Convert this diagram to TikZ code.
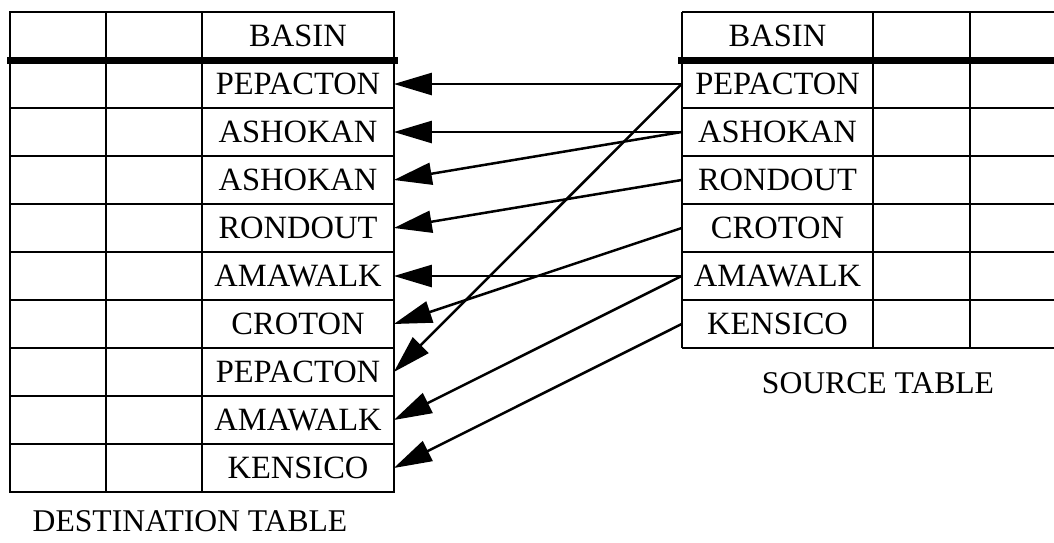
\documentclass[tikz,border=0pt]{standalone}
\usepackage{fontspec}
\setmainfont{Liberation Serif}
\usetikzlibrary{arrows.meta}

\begin{document}
\begin{tikzpicture}[x=0.02cm,y=-0.02cm]

\begin{scope}[grid/.style={line width=0.05cm},thick line/.style={line width=0.14cm},cell/.style={minimum width=3.82cm,minimum height=0.96cm,inner sep=0,font=\fontsize{18.5}{20}\selectfont},caption/.style={inner sep=0,font=\fontsize{18}{20}\selectfont},arr/.style={line width=0.05cm,-{Triangle[length=0.76cm,width=0.44cm]}}]
\useasboundingbox (0,0) rectangle (1054,542);

% Grid
\draw[grid] (10,12) rectangle (394,492);
\foreach \x in {106,202} \draw[grid] (\x,12) -- (\x,492);
\foreach \y in {108,156,...,444} \draw[grid] (10,\y) -- (394,\y);
\draw[thick line] (7,60) -- (398,60);

\foreach \x in {682,873,970} \draw[grid] (\x,12) -- (\x,348);
\foreach \y in {12,108,156,...,348} \draw[grid] (682,\y) -- (1054,\y);
\draw[thick line] (678,60) -- (1054,60);

% Nodes
\node[cell] (dst0) at (298,36) {BASIN};
\node[cell] (dst1) at (298,84) {PEPACTON};
\node[cell] (dst2) at (298,132) {ASHOKAN};
\node[cell] (dst3) at (298,180) {ASHOKAN};
\node[cell] (dst4) at (298,228) {RONDOUT};
\node[cell] (dst5) at (298,276) {AMAWALK};
\node[cell] (dst6) at (298,324) {CROTON};
\node[cell] (dst7) at (298,372) {PEPACTON};
\node[cell] (dst8) at (298,420) {AMAWALK};
\node[cell] (dst9) at (298,468) {KENSICO};

\node[cell] (src0) at (777.5,36) {BASIN};
\node[cell] (src1) at (777.5,84) {PEPACTON};
\node[cell] (src2) at (777.5,132) {ASHOKAN};
\node[cell] (src3) at (777.5,180) {RONDOUT};
\node[cell] (src4) at (777.5,228) {CROTON};
\node[cell] (src5) at (777.5,276) {AMAWALK};
\node[cell] (src6) at (777.5,324) {KENSICO};

\node[caption] (dsttitle) at (190,521) {DESTINATION TABLE};
\node[caption] (srctitle) at (878,383) {SOURCE TABLE};

%arcs
\path (src1.west) edge[arr] (dst1.east);
\path (src1.west) edge[arr] (dst7.east);
\path (src2.west) edge[arr] (dst2.east);
\path (src2.west) edge[arr] (dst3.east);
\path (src3.west) edge[arr] (dst4.east);
\path (src4.west) edge[arr] (dst6.east);
\path (src5.west) edge[arr] (dst5.east);
\path (src5.west) edge[arr] (dst8.east);
\path (src6.west) edge[arr] (dst9.east);

\end{scope}

\end{tikzpicture}
\end{document}
